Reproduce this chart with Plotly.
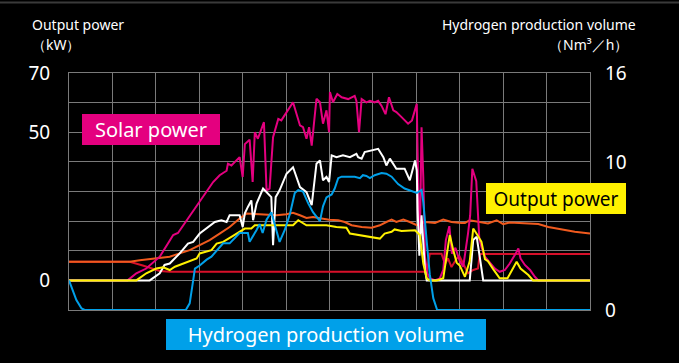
import plotly.graph_objects as go

# ---------------- data (time in grid columns 0..12) ----------------
solar_t = [0, 1.35, 1.55, 1.78, 2.09, 2.40, 2.51, 2.82, 3.05, 3.32, 3.47, 3.63, 3.66, 3.74, 3.93, 4.00,
           4.05, 4.16, 4.23, 4.28, 4.35, 4.49, 4.55, 4.62, 4.70, 4.82, 4.89, 5.01, 5.16, 5.32, 5.39,
           5.47, 5.53, 5.59, 5.70, 5.78, 5.85, 5.93, 5.99, 6.01, 6.08, 6.18, 6.28, 6.43, 6.51, 6.58,
           6.62, 6.68, 6.74, 6.85, 6.93, 7.04, 7.12, 7.20, 7.29, 7.37, 7.47, 7.54, 7.66, 7.81, 7.90,
           8.01, 8.05, 8.08, 8.12, 8.16, 8.20, 8.25, 8.31, 8.43, 8.54, 8.62, 8.68, 8.76, 8.82, 8.90,
           9.00, 9.08, 9.19, 9.24, 9.29, 9.38, 9.45, 9.50, 9.58, 9.65, 9.73, 9.81, 9.92, 10.04, 10.15,
           10.23, 10.29, 10.35, 10.40, 10.50, 10.62, 10.73, 10.81, 12]
solar_kw = [0, 0, 2.4, 4, 8, 15.3, 16, 22.6, 27.6, 33.2, 35.5, 37, 39.4, 38.8, 41.6, 34.9,
            46, 47.5, 33.2, 50, 47.8, 53.4, 30.4, 31, 48.3, 54.5, 54, 56.8, 60.1, 52.3, 51.7,
            47.8, 51.7, 45.5, 61.3, 60.1, 52.9, 57.4, 50, 63.6, 60.1, 62.9, 61.8, 61.2, 61.8, 62.3,
            60.6, 50, 61.2, 60.1, 60.6, 60.1, 60.6, 58.9, 56.1, 61.8, 57.4, 56.8, 55.1, 52.9, 54,
            59.6, 25.9, 11.3, 51.7, 34.9, 7.9, 2.4, 0.7, 0, 0.7, 3.5, 13.6, 18.3, 9, 11,
            6.5, 4.6, 15.8, 22, 37.7, 33.5, 14, 11.3, 8, 6.8, 5.7, 4, 2.9, 3.5, 5.7,
            7.4, 9.1, 10.8, 7.4, 5.2, 3.5, 1.2, 0, 0]

white_t = [0, 1.86, 2.09, 2.20, 2.32, 2.55, 2.74, 2.86, 3.01, 3.17, 3.36, 3.51, 3.63, 3.70, 3.93, 4.00,
           4.05, 4.12, 4.20, 4.24, 4.32, 4.47, 4.55, 4.66, 4.70, 4.76, 4.85, 5.01, 5.16, 5.32, 5.47,
           5.59, 5.70, 5.78, 5.85, 5.93, 5.99, 6.05, 6.16, 6.31, 6.47, 6.62, 6.66, 6.74, 6.81, 6.97,
           7.12, 7.24, 7.31, 7.39, 7.54, 7.73, 7.85, 7.97, 8.01, 8.03, 8.07, 8.12, 8.20, 8.24, 9.23,
           9.31, 9.39, 9.46, 9.54, 12]
white_kw = [0, 0, 2.4, 5.2, 5.7, 9.1, 12.4, 13, 15.8, 17.5, 19.7, 20.3, 19.7, 22, 22, 18,
            22.6, 24.8, 27, 20.3, 25.9, 31, 29.8, 28.1, 11.9, 28.1, 30.4, 36, 38.2, 31.5, 29.8,
            25.4, 39.4, 40.5, 33.8, 34.9, 33.2, 42.2, 41.6, 42.2, 41.6, 42.7, 41.6, 41.1, 43.3, 43.8,
            44.4, 41.6, 38.8, 41.1, 37.7, 37.7, 33.8, 40.5, 37.1, 23.7, 8.3, 22, 3.5, 0, 0,
            13.6, 14.7, 8, 0, 0]

output_t = [0, 1.55, 1.78, 2.01, 2.17, 2.32, 2.44, 2.63, 2.82, 2.94, 3.01, 3.17, 3.28, 3.40, 3.55, 3.74,
            3.93, 4.05, 4.20, 4.28, 5.16, 5.28, 5.47, 5.93, 6.16, 6.39, 6.47, 6.70, 6.97, 7.16, 7.27,
            7.43, 7.50, 7.66, 7.97, 8.05, 8.08, 8.16, 8.24, 8.31, 8.47, 8.62, 8.70, 8.77, 8.85, 8.93,
            9.00, 9.12, 9.23, 9.31, 9.40, 9.50, 9.58, 9.65, 9.77, 9.92, 10.10, 10.23, 10.31, 10.40, 10.58,
            10.69, 12]
output_kw = [0, 0, 2.4, 4, 4.4, 3.5, 4.6, 5.7, 6.8, 7.4, 9.1, 9.6, 10.2, 12.4, 13, 14.7,
             16.4, 17.5, 17.5, 18.6, 18.6, 20.3, 18.6, 18.6, 18, 17.8, 15.8, 15.3, 14.7, 14.1, 15.8,
             16.4, 17.2, 16.7, 16.9, 15.8, 15.3, 5.7, 0.7, 0, 0, 0.7, 8, 15.3, 10.2, 6,
             5, 1.2, 6.5, 17.5, 15.5, 13, 7.2, 6.5, 3.8, 0.7, 0.7, 4, 6.3, 4, 1.8,
             0, 0]

orange_t = [0, 1.40, 1.63, 1.86, 2.09, 2.32, 2.55, 2.78, 3.01, 3.24, 3.47, 3.70, 3.93, 4.09, 4.39, 4.78,
            5.01, 5.16, 5.32, 5.47, 5.62, 5.78, 5.99, 6.20, 6.35, 6.51, 6.74, 6.97, 7.16, 7.31, 7.43,
            7.54, 7.70, 7.85, 8.01, 8.20, 8.43, 8.62, 8.81, 9.04, 9.12, 9.23, 9.42, 9.65, 9.85, 10.00,
            10.15, 10.42, 10.81, 11.04, 11.35, 11.65, 12]
orange_kw = [6.3, 6.3, 6.8, 7.2, 7.4, 8, 9.1, 10.2, 11.9, 13.6, 15.8, 18, 20.9, 22.6, 22.3, 22,
             22.3, 22.8, 22, 21.1, 21.4, 20.9, 20.5, 20.3, 19.7, 18.6, 18, 17.8, 18.6, 19.7, 20.5,
             19.7, 20.5, 19.7, 18.6, 19.7, 19.4, 20.5, 19.7, 19.4, 19.4, 20.3, 19.7, 19.2, 20.3, 19,
             19.5, 19.2, 19, 18, 17.2, 16.4, 15.8]

red_t = [0, 1.40, 1.70, 2.09, 2.32, 8.24, 8.31, 8.58, 8.66, 8.73, 8.81, 8.93, 9.00, 9.08, 9.19,
         9.31, 9.42, 9.46, 12]
red_kw = [6.3, 6.3, 5, 3.2, 2.9, 2.9, 9, 9, 5.5, 7.4, 4.5, 7.4, 8, 5.5, 2.4,
          3.5, 4, 8.9, 8.9]

hydrogen_t = [0, 0.09, 0.17, 0.29, 0.36, 2.69, 2.78, 2.86, 2.90, 3.01, 3.17, 3.28, 3.40, 3.55, 3.70, 3.93,
              4.12, 4.16, 4.32, 4.39, 4.46, 4.55, 4.66, 4.74, 4.85, 4.97, 5.09, 5.20, 5.28, 5.39, 5.51,
              5.62, 5.78, 5.85, 5.93, 6.05, 6.12, 6.20, 6.28, 6.58, 6.70, 6.77, 6.85, 6.93, 7.04, 7.20,
              7.31, 7.43, 7.58, 7.73, 7.89, 8.01, 8.12, 8.16, 8.24, 8.31, 8.39, 8.48, 12]
hydrogen_nm3h = [2.0, 1.35, 0.67, 0.1, 0, 0, 0.45, 2.0, 2.8, 3.0, 3.4, 3.6, 4.0, 4.5, 4.5, 5.2,
                 5.2, 4.6, 5.4, 5.8, 5.2, 6.1, 6.6, 5.8, 4.6, 5.4, 6.5, 7.9, 8.1, 8.0, 7.2,
                 6.6, 6.0, 7.0, 7.6, 7.8, 8.2, 8.9, 9.0, 9.0, 8.9, 9.1, 9.05, 8.9, 9.1, 9.25,
                 9.2, 9.0, 8.5, 8.2, 8.0, 7.9, 8.1, 7.3, 4.6, 2.4, 0.8, 0, 0]

left_tickvals = [-10, 0, 10, 20, 30, 40, 50, 60, 70]
left_ticktext = ["", "0", "", "", "", "", "50", "", "70"]
right_tickvals = [0, 10, 16]
right_ticktext = ["0", "10", "16"]

# ---------------- style ----------------
FONT = "Noto Sans"
MAGENTA = "#E4007F"
YELLOW = "#FFF100"
BLUE = "#00A0E9"
ORANGE = "#F05A1E"
RED = "#D7102A"
GRID = "#7a7a7a"

fig = go.Figure()
fig.add_trace(go.Scatter(x=red_t, y=red_kw, mode="lines", line=dict(color=RED, width=2)))
fig.add_trace(go.Scatter(x=orange_t, y=orange_kw, mode="lines", line=dict(color=ORANGE, width=2)))
fig.add_trace(go.Scatter(x=solar_t, y=solar_kw, mode="lines", line=dict(color=MAGENTA, width=2)))
fig.add_trace(go.Scatter(x=white_t, y=white_kw, mode="lines", line=dict(color="#FFFFFF", width=2)))
fig.add_trace(go.Scatter(x=output_t, y=output_kw, mode="lines", line=dict(color=YELLOW, width=2)))
fig.add_trace(go.Scatter(x=hydrogen_t, y=hydrogen_nm3h, mode="lines", yaxis="y2",
                         line=dict(color=BLUE, width=2)))

fig.update_layout(
    width=679, height=363,
    margin=dict(l=69, r=89, t=73, b=53),
    paper_bgcolor="black", plot_bgcolor="black",
    showlegend=False,
    font=dict(family=FONT, color="white"),
    xaxis=dict(range=[0, 12], dtick=1, showticklabels=False, showgrid=True, gridcolor=GRID,
               gridwidth=1, zeroline=False, showline=True, linecolor=GRID, linewidth=1, mirror=True,
               ticks=""),
    yaxis=dict(range=[-10, 70], tickvals=left_tickvals, ticktext=left_ticktext, showgrid=True,
               gridcolor=GRID, gridwidth=1, zeroline=False, showline=True, linecolor=GRID,
               linewidth=1, mirror=True, ticks="", ticklabelstandoff=14,
               tickfont=dict(size=19, color="white", family=FONT)),
    yaxis2=dict(range=[0, 16], overlaying="y", side="right", tickvals=right_tickvals,
                ticktext=right_ticktext, showgrid=False, zeroline=False, showline=False, ticks="",
                ticklabelstandoff=14, tickfont=dict(size=19, color="white", family=FONT)),
)

annotations = [
    dict(text="Output power", x=-0.0741, y=1.205, xanchor="left", yanchor="middle",
         font=dict(size=14, color="white")),
    dict(text="（kW）", x=-0.075, y=1.121, xanchor="left", yanchor="middle",
         font=dict(size=14, color="white")),
    dict(text="Hydrogen production volume", x=1.0928, y=1.205, xanchor="right", yanchor="middle",
         font=dict(size=14, color="white")),
    dict(text="（Nm³／h）", x=1.0768, y=1.121, xanchor="right", yanchor="middle",
         font=dict(size=14, color="white")),
    dict(text="Solar power", x=0.158, y=0.7607, xanchor="center", yanchor="middle",
         width=138, height=31, bgcolor=MAGENTA, borderpad=0, borderwidth=0,
         font=dict(size=20, color="white")),
    dict(text="Output power", x=0.9353, y=0.472, xanchor="center", yanchor="middle",
         width=140, height=31, bgcolor=YELLOW, borderpad=0, borderwidth=0,
         font=dict(size=19, color="black")),
    dict(text="Hydrogen production volume", x=0.4936, y=-0.102, xanchor="center", yanchor="middle",
         width=320, height=31, bgcolor=BLUE, borderpad=0, borderwidth=0,
         font=dict(size=20, color="white")),
]
for a in annotations:
    a.update(xref="paper", yref="paper", showarrow=False)
fig.update_layout(annotations=annotations)

fig.add_shape(type="line", xref="paper", yref="paper", x0=-0.14, x1=1.18, y0=1.2975, y1=1.2975,
              line=dict(color="#3a3a3a", width=2), layer="above")

fig.write_html("out.html", config={"displayModeBar": False},
               post_script="document.body.style.margin='0';document.body.style.background='black';")
